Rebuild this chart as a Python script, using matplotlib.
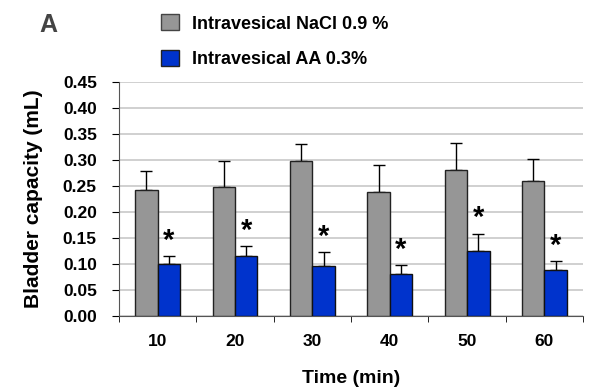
import numpy as np
import matplotlib.pyplot as plt
from matplotlib.patches import Patch

plt.rcParams['font.family'] = ['Liberation Sans', 'DejaVu Sans']
plt.rcParams['font.weight'] = 'bold'

times = ['10', '20', '30', '40', '50', '60']
nacl = [0.243, 0.248, 0.299, 0.238, 0.281, 0.260]
nacl_err = [0.036, 0.050, 0.032, 0.052, 0.052, 0.042]
aa = [0.100, 0.115, 0.097, 0.080, 0.126, 0.088]
aa_err = [0.015, 0.019, 0.026, 0.018, 0.032, 0.017]

fig = plt.figure(figsize=(5.92, 3.89), dpi=100)
ax = fig.add_axes([0.201, 0.188, 0.784, 0.600])

x = np.arange(len(times))
w = 0.29
ax.bar(x - w/2, nacl, w, color='#969696', edgecolor='#222222', linewidth=1, zorder=3)
ax.bar(x + w/2, aa, w, color='#0033cc', edgecolor='#111111', linewidth=1, zorder=3)
ax.errorbar(x - w/2, nacl, yerr=[np.zeros(6), nacl_err], fmt='none', ecolor='black',
            elinewidth=1, capsize=4, capthick=1, zorder=2)
ax.errorbar(x + w/2, aa, yerr=[np.zeros(6), aa_err], fmt='none', ecolor='black',
            elinewidth=1, capsize=4, capthick=1, zorder=2)

# significance stars
for xi, v, e in zip(x, aa, aa_err):
    ax.text(xi + w/2, v + e + 0.003, '*', ha='center', va='bottom',
            fontsize=21, fontweight='bold')

ax.set_xlim(-0.5, len(times) - 0.5)
ax.set_ylim(0, 0.45)
ax.set_yticks(np.arange(0, 0.46, 0.05))
ax.set_yticklabels(['%.2f' % t for t in np.arange(0, 0.46, 0.05)], fontsize=12.5)
ax.set_xticks(x)
ax.set_xticklabels(times, fontsize=12.5)
ax.set_xticks(np.arange(-0.5, len(times)), minor=True)
ax.tick_params(axis='x', which='major', length=0, pad=13)
ax.tick_params(axis='x', which='minor', length=4, direction='out')
ax.tick_params(axis='y', length=5, pad=11)

ax.grid(axis='y', color='#c8c8c8', linewidth=1.2, zorder=0)
ax.set_axisbelow(True)
for s in ['top', 'right']:
    ax.spines[s].set_visible(False)
ax.spines['left'].set_color('#555555')
ax.spines['bottom'].set_color('#555555')

ax.set_ylabel('Bladder capacity (mL)', fontsize=15, fontweight='bold', labelpad=14)
ax.set_xlabel('Time (min)', fontsize=14, fontweight='bold', labelpad=15)

fig.text(0.066, 0.918, 'A', fontsize=18, fontweight='bold', color='#444444')

handles = [Patch(facecolor='#969696', edgecolor='#444444', label='Intravesical NaCl 0.9 %'),
           Patch(facecolor='#0033cc', edgecolor='#222222', label='Intravesical AA 0.3%')]
fig.legend(handles=handles, loc='upper left', bbox_to_anchor=(0.244, 1.005), frameon=False,
           fontsize=13, handlelength=1.0, handleheight=1.0, labelspacing=0.95,
           handletextpad=0.75)

fig.savefig('out.png', dpi=100)
